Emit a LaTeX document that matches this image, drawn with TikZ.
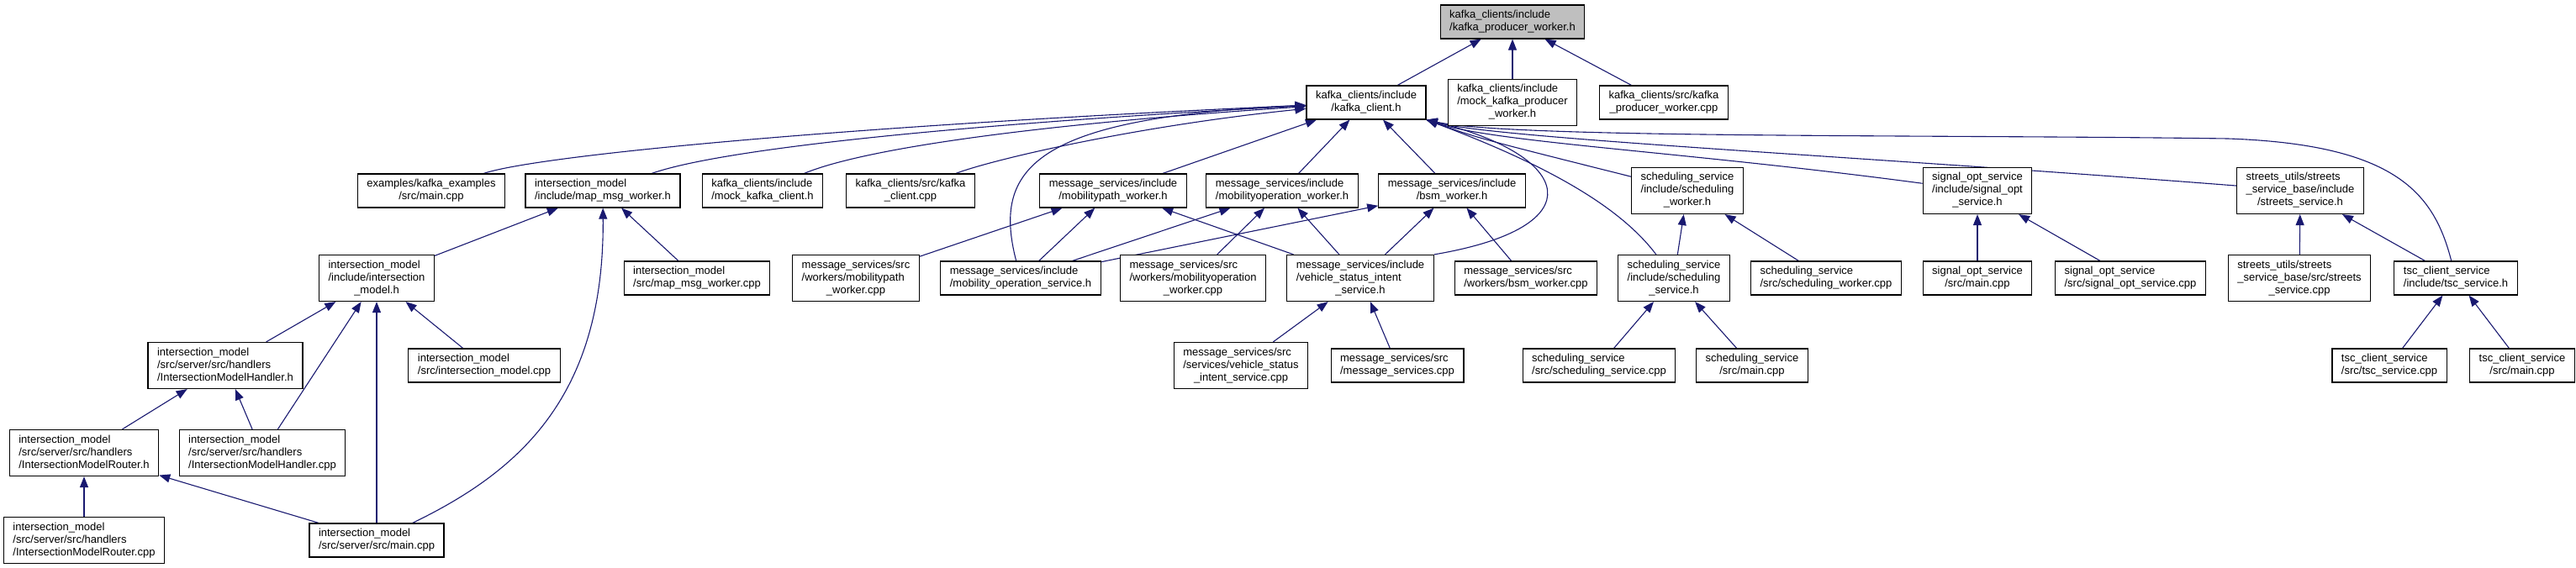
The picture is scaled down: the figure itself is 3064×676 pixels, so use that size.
\documentclass[tikz,border=0pt]{standalone}
\usepackage{fontspec}
\setmainfont{Liberation Sans}
\usetikzlibrary{arrows.meta}
\definecolor{edgeblue}{HTML}{191970}
\pgfdeclarelayer{edges}
\pgfsetlayers{edges,main}
% all lines left-aligned, the last one centred
\newcommand{\flbl}[2]{\begin{tabular}{@{}l@{}}#1\\\multicolumn{1}{@{}c@{}}{#2}\end{tabular}}

\begin{document}
\begin{tikzpicture}[x=1pt,y=-1pt,
	file/.style={draw=black, line width=1.2pt, fill=white, inner xsep=11pt, inner ysep=5pt, font=\fontsize{13}{15}\selectfont},
	rootfile/.style={file, fill=gray!50},
	dep/.style={draw=edgeblue, line width=1.1pt, {Triangle[length=13pt,width=10pt]}-}]
	\useasboundingbox (0,0) rectangle (3064,676);
	% top
	\node[rootfile] (root) at (1799,26) {\flbl{kafka\_clients/include}{/kafka\_producer\_worker.h}};
	\node[file] (kclient) at (1625,122) {\flbl{kafka\_clients/include}{/kafka\_client.h}};
	\node[file] (mockprod) at (1799,122) {\flbl{kafka\_clients/include\\/mock\_kafka\_producer}{\_worker.h}};
	\node[file] (prodcpp) at (1979,122) {\flbl{kafka\_clients/src/kafka}{\_producer\_worker.cpp}};
	% row 2
	\node[file] (exmain) at (513,227) {\flbl{examples/kafka\_examples}{/src/main.cpp}};
	\node[file] (mapmsg) at (717,227) {\flbl{intersection\_model}{/include/map\_msg\_worker.h}};
	\node[file] (mockcl) at (907,227) {\flbl{kafka\_clients/include}{/mock\_kafka\_client.h}};
	\node[file] (kcpp) at (1083,227) {\flbl{kafka\_clients/src/kafka}{\_client.cpp}};
	\node[file] (mpath) at (1324,227) {\flbl{message\_services/include}{/mobilitypath\_worker.h}};
	\node[file] (mop) at (1525,227) {\flbl{message\_services/include}{/mobilityoperation\_worker.h}};
	\node[file] (bsm) at (1727,227) {\flbl{message\_services/include}{/bsm\_worker.h}};
	\node[file] (schedw) at (2007,227) {\flbl{scheduling\_service\\/include/scheduling}{\_worker.h}};
	\node[file] (sigopt) at (2352,227) {\flbl{signal\_opt\_service\\/include/signal\_opt}{\_service.h}};
	\node[file] (streets) at (2736,227) {\flbl{streets\_utils/streets\\\_service\_base/include}{/streets\_service.h}};
	% row 3
	\node[file] (immodel) at (448,331) {\flbl{intersection\_model\\/include/intersection}{\_model.h}};
	\node[file] (mapcpp) at (829,331) {\flbl{intersection\_model}{/src/map\_msg\_worker.cpp}};
	\node[file] (mpathcpp) at (1018,331) {\flbl{message\_services/src\\/workers/mobilitypath}{\_worker.cpp}};
	\node[file] (mopsvc) at (1214,331) {\flbl{message\_services/include}{/mobility\_operation\_service.h}};
	\node[file] (mopcpp) at (1419,331) {\flbl{message\_services/src\\/workers/mobilityoperation}{\_worker.cpp}};
	\node[file] (vsi) at (1618,331) {\flbl{message\_services/include\\/vehicle\_status\_intent}{\_service.h}};
	\node[file] (bsmcpp) at (1815,331) {\flbl{message\_services/src}{/workers/bsm\_worker.cpp}};
	\node[file] (schedsvc) at (1991,331) {\flbl{scheduling\_service\\/include/scheduling}{\_service.h}};
	\node[file] (schedwcpp) at (2172,331) {\flbl{scheduling\_service}{/src/scheduling\_worker.cpp}};
	\node[file] (sigmain) at (2352,331) {\flbl{signal\_opt\_service}{/src/main.cpp}};
	\node[file] (sigcpp) at (2534,331) {\flbl{signal\_opt\_service}{/src/signal\_opt\_service.cpp}};
	\node[file] (streetscpp) at (2735,331) {\flbl{streets\_utils/streets\\\_service\_base/src/streets}{\_service.cpp}};
	\node[file] (tsch) at (2921,331) {\flbl{tsc\_client\_service}{/include/tsc\_service.h}};
	% row 4
	\node[file] (imhandler) at (268,435) {\flbl{intersection\_model\\/src/server/src/handlers}{/IntersectionModelHandler.h}};
	\node[file] (imcpp) at (576,435) {\flbl{intersection\_model}{/src/intersection\_model.cpp}};
	\node[file] (vsicpp) at (1476,435) {\flbl{message\_services/src\\/services/vehicle\_status}{\_intent\_service.cpp}};
	\node[file] (mscpp) at (1662,435) {\flbl{message\_services/src}{/message\_services.cpp}};
	\node[file] (schedsvccpp) at (1902,435) {\flbl{scheduling\_service}{/src/scheduling\_service.cpp}};
	\node[file] (schedmain) at (2084,435) {\flbl{scheduling\_service}{/src/main.cpp}};
	\node[file] (tsccpp) at (2842,435) {\flbl{tsc\_client\_service}{/src/tsc\_service.cpp}};
	\node[file] (tscmain) at (3000,435) {\flbl{tsc\_client\_service}{/src/main.cpp}};
	% rows 5 and 6
	\node[file] (imrouter) at (100,539) {\flbl{intersection\_model\\/src/server/src/handlers}{/IntersectionModelRouter.h}};
	\node[file] (imhcpp) at (312,539) {\flbl{intersection\_model\\/src/server/src/handlers}{/IntersectionModelHandler.cpp}};
	\node[file] (imrcpp) at (100,643) {\flbl{intersection\_model\\/src/server/src/handlers}{/IntersectionModelRouter.cpp}};
	\node[file] (svmain) at (448,643) {\flbl{intersection\_model}{/src/server/src/main.cpp}};

	\begin{pgfonlayer}{edges}
	\draw[dep] (root) -- (kclient);
	\draw[dep] (root) -- (mockprod);
	\draw[dep] (root) -- (prodcpp);
	% kafka_client.h
	\draw[dep] (kclient) .. controls (1000,150) and (640,185) .. (exmain);
	\draw[dep] (kclient) .. controls (1100,150) and (850,180) .. (mapmsg);
	\draw[dep] (kclient) .. controls (1200,150) and (1020,180) .. (mockcl);
	\draw[dep] (kclient) .. controls (1350,150) and (1180,190) .. (kcpp);
	\draw[dep] (kclient) .. controls (1230,140) and (1180,200) .. (mopsvc);
	\draw[dep] (kclient) -- (mpath);
	\draw[dep] (kclient) -- (mop);
	\draw[dep] (kclient) -- (bsm);
	\draw[dep] (kclient.south east) .. controls (1870,185) and (1900,270) .. (vsi.north east);
	\draw[dep] (kclient.south east) .. controls (1850,200) and (1930,250) .. (schedsvc);
	\draw[dep] (kclient.south east) .. controls (1760,165) .. (schedw);
	\draw[dep] (kclient.south east) .. controls (1780,170) and (2000,180) .. (sigopt);
	\draw[dep] (kclient.south east) .. controls (1780,165) and (2200,185) .. (streets);
	\draw[dep] (kclient.south east) .. controls (1800,165) and (2300,160) .. (2650,165)
		.. controls (2850,172) and (2895,230) .. (tsch);
	% intersection_model
	\draw[dep] (mapmsg) -- (immodel);
	\draw[dep] (mapmsg) .. controls (719,470) and (620,560) .. (svmain);
	\draw[dep] (mapmsg) -- (mapcpp);
	\draw[dep] (immodel) -- (imhandler);
	\draw[dep] (immodel) -- (imhcpp);
	\draw[dep] (immodel) -- (svmain);
	\draw[dep] (immodel) -- (imcpp);
	\draw[dep] (imhandler) -- (imrouter);
	\draw[dep] (imhandler) -- (imhcpp);
	\draw[dep] (imrouter) -- (imrcpp);
	\draw[dep] (imrouter) -- (svmain);
	% message_services
	\draw[dep] (mpath) -- (mpathcpp);
	\draw[dep] (mpath) -- (mopsvc);
	\draw[dep] (mpath) -- (vsi);
	\draw[dep] (mop) -- (mopsvc);
	\draw[dep] (mop) -- (mopcpp);
	\draw[dep] (mop) -- (vsi);
	\draw[dep] (bsm) -- (mopsvc);
	\draw[dep] (bsm) -- (vsi);
	\draw[dep] (bsm) -- (bsmcpp);
	\draw[dep] (vsi) -- (vsicpp);
	\draw[dep] (vsi) -- (mscpp);
	% scheduling, signal_opt, streets, tsc
	\draw[dep] (schedw) -- (schedsvc);
	\draw[dep] (schedw) -- (schedwcpp);
	\draw[dep] (schedsvc) -- (schedsvccpp);
	\draw[dep] (schedsvc) -- (schedmain);
	\draw[dep] (sigopt) -- (sigmain);
	\draw[dep] (sigopt) -- (sigcpp);
	\draw[dep] (streets) -- (streetscpp);
	\draw[dep] (streets) -- (tsch);
	\draw[dep] (tsch) -- (tsccpp);
	\draw[dep] (tsch) -- (tscmain);
	\end{pgfonlayer}
\end{tikzpicture}
\end{document}
